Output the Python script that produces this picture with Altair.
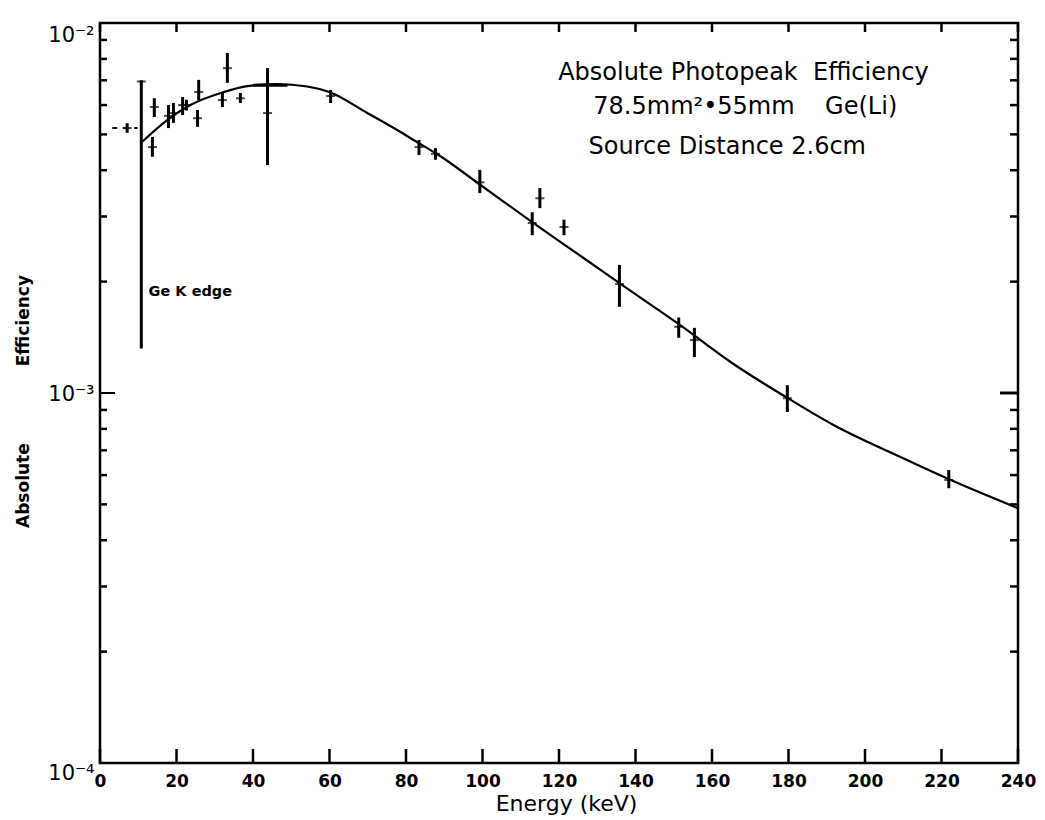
import altair as alt
import pandas as pd

# ---------------- data ----------------
pt_energy = [7.1, 10.8, 13.7, 14.2, 17.9, 19.2, 21.6, 22.6, 25.8, 25.5, 32.0, 33.3,
             36.7, 43.8, 43.8, 60.3, 83.4, 87.7, 99.3, 113.0, 115.0, 121.3, 135.8,
             151.3, 155.4, 179.7, 221.9]
pt_eff = [5.2e-3, 6.95e-3, 4.62e-3, 5.93e-3, 5.61e-3, 5.71e-3, 6.0e-3, 6.0e-3, 6.51e-3,
          5.53e-3, 6.19e-3, 7.55e-3, 6.26e-3, 6.79e-3, 5.71e-3, 6.35e-3, 4.62e-3,
          4.43e-3, 3.71e-3, 2.88e-3, 3.36e-3, 2.81e-3, 1.97e-3, 1.51e-3, 1.39e-3,
          9.68e-4, 5.82e-4]
pt_lo = [5.05e-3, 1.32e-3, 4.35e-3, 5.57e-3, 5.2e-3, 5.37e-3, 5.64e-3, 5.8e-3, 6.19e-3,
         5.24e-3, 5.93e-3, 6.89e-3, 6.08e-3, 4.13e-3, 5.71e-3, 6.08e-3, 4.40e-3,
         4.27e-3, 3.47e-3, 2.67e-3, 3.16e-3, 2.67e-3, 1.71e-3, 1.41e-3, 1.25e-3,
         8.89e-4, 5.53e-4]
pt_hi = [5.36e-3, 7.0e-3, 4.92e-3, 6.26e-3, 6.0e-3, 6.08e-3, 6.31e-3, 6.2e-3, 7.02e-3,
         5.82e-3, 6.47e-3, 8.3e-3, 6.47e-3, 7.55e-3, 5.71e-3, 6.59e-3, 4.83e-3,
         4.59e-3, 4.01e-3, 3.08e-3, 3.58e-3, 2.94e-3, 2.22e-3, 1.60e-3, 1.50e-3,
         1.05e-3, 6.19e-4]

# horizontal bars: dashed one below the Ge K edge, solid one at 44 keV
xbar_lo = [3.2, 40.1]
xbar_hi = [9.8, 49.0]
xbar_eff = [5.2e-3, 6.79e-3]
xbar_dashed = [True, False]

curve_energy = [11.03, 17.57, 23.66, 32.37, 38.48, 46.33, 54.17, 60.26, 69.86, 78.56,
                83.27, 87.71, 99.48, 113.33, 126.41, 136.08, 151.24, 165.62, 179.74,
                191.76, 209.28, 221.83, 239.87]
curve_eff = [4.776e-3, 5.466e-3, 6.003e-3, 6.508e-3, 6.755e-3, 6.840e-3, 6.734e-3,
             6.488e-3, 5.711e-3, 5.074e-3, 4.738e-3, 4.452e-3, 3.649e-3, 2.880e-3,
             2.317e-3, 1.971e-3, 1.537e-3, 1.198e-3, 9.694e-4, 8.195e-4, 6.714e-4,
             5.855e-4, 4.889e-4]

x_tick_values = [0, 20, 40, 60, 80, 100, 120, 140, 160, 180, 200, 220, 240]
y_major = [1e-4, 1e-3, 1e-2]
y_minor = [2e-4, 3e-4, 4e-4, 5e-4, 6e-4, 7e-4, 8e-4, 9e-4,
           2e-3, 3e-3, 4e-3, 5e-3, 6e-3, 7e-3, 8e-3, 9e-3]

NB = "\u00a0"
note_text = ["Absolute Photopeak" + NB * 2 + "Efficiency",
             "78.5mm²•55mm" + NB * 4 + "Ge(Li)",
             "Source Distance 2.6cm"]
note_energy = [168.2, 168.7, 164.0]
note_eff = [7.32e-3, 5.93e-3, 4.62e-3]

edge_text = ["Ge K edge"]
edge_energy = [12.7]
edge_eff = [1.875e-3]

y_title = "Absolute" + NB * 13 + "Efficiency"

# ---------------- tables ----------------
pts = pd.DataFrame({"E": pt_energy, "v": pt_eff, "lo": pt_lo, "hi": pt_hi})
xb = pd.DataFrame({"a": xbar_lo, "b": xbar_hi, "v": xbar_eff, "d": xbar_dashed})
curve = pd.DataFrame({"E": curve_energy, "v": curve_eff})
xt = pd.DataFrame({"t": x_tick_values})
ymaj = pd.DataFrame({"t": [1e-3]})
ymin = pd.DataFrame({"t": y_minor})
notes = pd.DataFrame({"E": note_energy, "v": note_eff, "txt": note_text})
edge = pd.DataFrame({"E": edge_energy, "v": edge_eff, "txt": edge_text})

W, H = 918, 740
FONT = "DejaVu Sans"

xs = alt.Scale(domain=[0, 240], nice=False, zero=False)
ys = alt.Scale(type="log", domain=[1e-4, 1e-2], nice=False)

x_axis = alt.Axis(values=x_tick_values, ticks=False, domain=False, grid=False,
                  labelFont=FONT, labelFontSize=17, labelFontWeight="bold",
                  labelColor="black", labelPadding=10, labelFlush=False,
                  title="Energy (keV)", titleFont=FONT, titleFontSize=22,
                  titleFontWeight="normal", titleColor="black",
                  titleX=466, titleY=40, titleBaseline="middle")
y_axis = alt.Axis(values=y_major, ticks=False, domain=False, grid=False,
                  labelExpr="datum.value > 0.005 ? '10⁻²' : (datum.value > 0.0005 ? '10⁻³' : '10⁻⁴')",
                  labelFont=FONT, labelFontSize=21, labelColor="black",
                  labelPadding=6, labelFlush=False,
                  labelBaseline={"condition": {"test": "datum.value > 0.005", "value": "top"},
                                 "value": "middle"},
                  labelOffset={"condition": {"test": "datum.value < 0.0005", "value": 10},
                               "value": 1},
                  title=y_title, titleFont=FONT,
                  titleFontSize=17, titleFontWeight="bold", titleColor="black",
                  titleAngle=270, titleX=-77, titleY=378, titleAlign="center",
                  titleBaseline="middle")


def X(field):
    return alt.X(field, scale=xs, axis=x_axis)


def Y(field):
    return alt.Y(field, scale=ys, axis=y_axis)


line = alt.Chart(curve).mark_line(color="black", strokeWidth=2.2,
                                  interpolate="monotone").encode(x=X("E:Q"), y=Y("v:Q"))

bars = alt.Chart(pts).mark_rule(color="black", strokeWidth=3).encode(
    x=X("E:Q"), y=Y("lo:Q"), y2="hi:Q")

marks = alt.Chart(pts).mark_tick(color="black", orient="horizontal", size=9,
                                 thickness=2).encode(x=X("E:Q"), y=Y("v:Q"))

hbars_d = alt.Chart(xb).transform_filter("datum.d").mark_rule(
    color="black", strokeWidth=2, strokeDash=[5, 6]).encode(x=X("a:Q"), x2="b:Q", y=Y("v:Q"))
hbars_s = alt.Chart(xb).transform_filter("!datum.d").mark_rule(
    color="black", strokeWidth=3).encode(x=X("a:Q"), x2="b:Q", y=Y("v:Q"))

bottom_ticks = alt.Chart(xt).mark_rule(color="black", strokeWidth=2.5).encode(
    x=X("t:Q"), y=alt.value(H), y2=alt.value(H - 14))
top_ticks = alt.Chart(xt).mark_rule(color="black", strokeWidth=2.5).encode(
    x=X("t:Q"), y=alt.value(0), y2=alt.value(9))
left_minor = alt.Chart(ymin).mark_rule(color="black", strokeWidth=2.5).encode(
    y=Y("t:Q"), x=alt.value(0), x2=alt.value(7))
left_major = alt.Chart(ymaj).mark_rule(color="black", strokeWidth=2).encode(
    y=Y("t:Q"), x=alt.value(0), x2=alt.value(15))
right_minor = alt.Chart(ymin).mark_rule(color="black", strokeWidth=2.5).encode(
    y=Y("t:Q"), x=alt.value(W), x2=alt.value(W - 8))
right_major = alt.Chart(ymaj).mark_rule(color="black", strokeWidth=3).encode(
    y=Y("t:Q"), x=alt.value(W), x2=alt.value(W - 18))

note_layer = alt.Chart(notes).mark_text(font=FONT, fontSize=24, color="black",
                                        align="center", baseline="middle").encode(
    x=X("E:Q"), y=Y("v:Q"), text="txt:N")
edge_layer = alt.Chart(edge).mark_text(font=FONT, fontSize=14.5, fontWeight="bold",
                                       color="black", align="left",
                                       baseline="middle").encode(
    x=X("E:Q"), y=Y("v:Q"), text="txt:N")

chart = alt.layer(
    line, bars, marks, hbars_d, hbars_s, bottom_ticks, top_ticks, left_minor, left_major,
    right_minor, right_major, note_layer, edge_layer,
).properties(
    width=W, height=H,
    padding={"left": 100, "top": 23, "right": 27, "bottom": 57},
    autosize=alt.AutoSizeParams(type="none"),
    background="white",
).configure_view(stroke="black", strokeWidth=2.5)

chart.save("out.html", embed_options={"renderer": "svg", "actions": False})
